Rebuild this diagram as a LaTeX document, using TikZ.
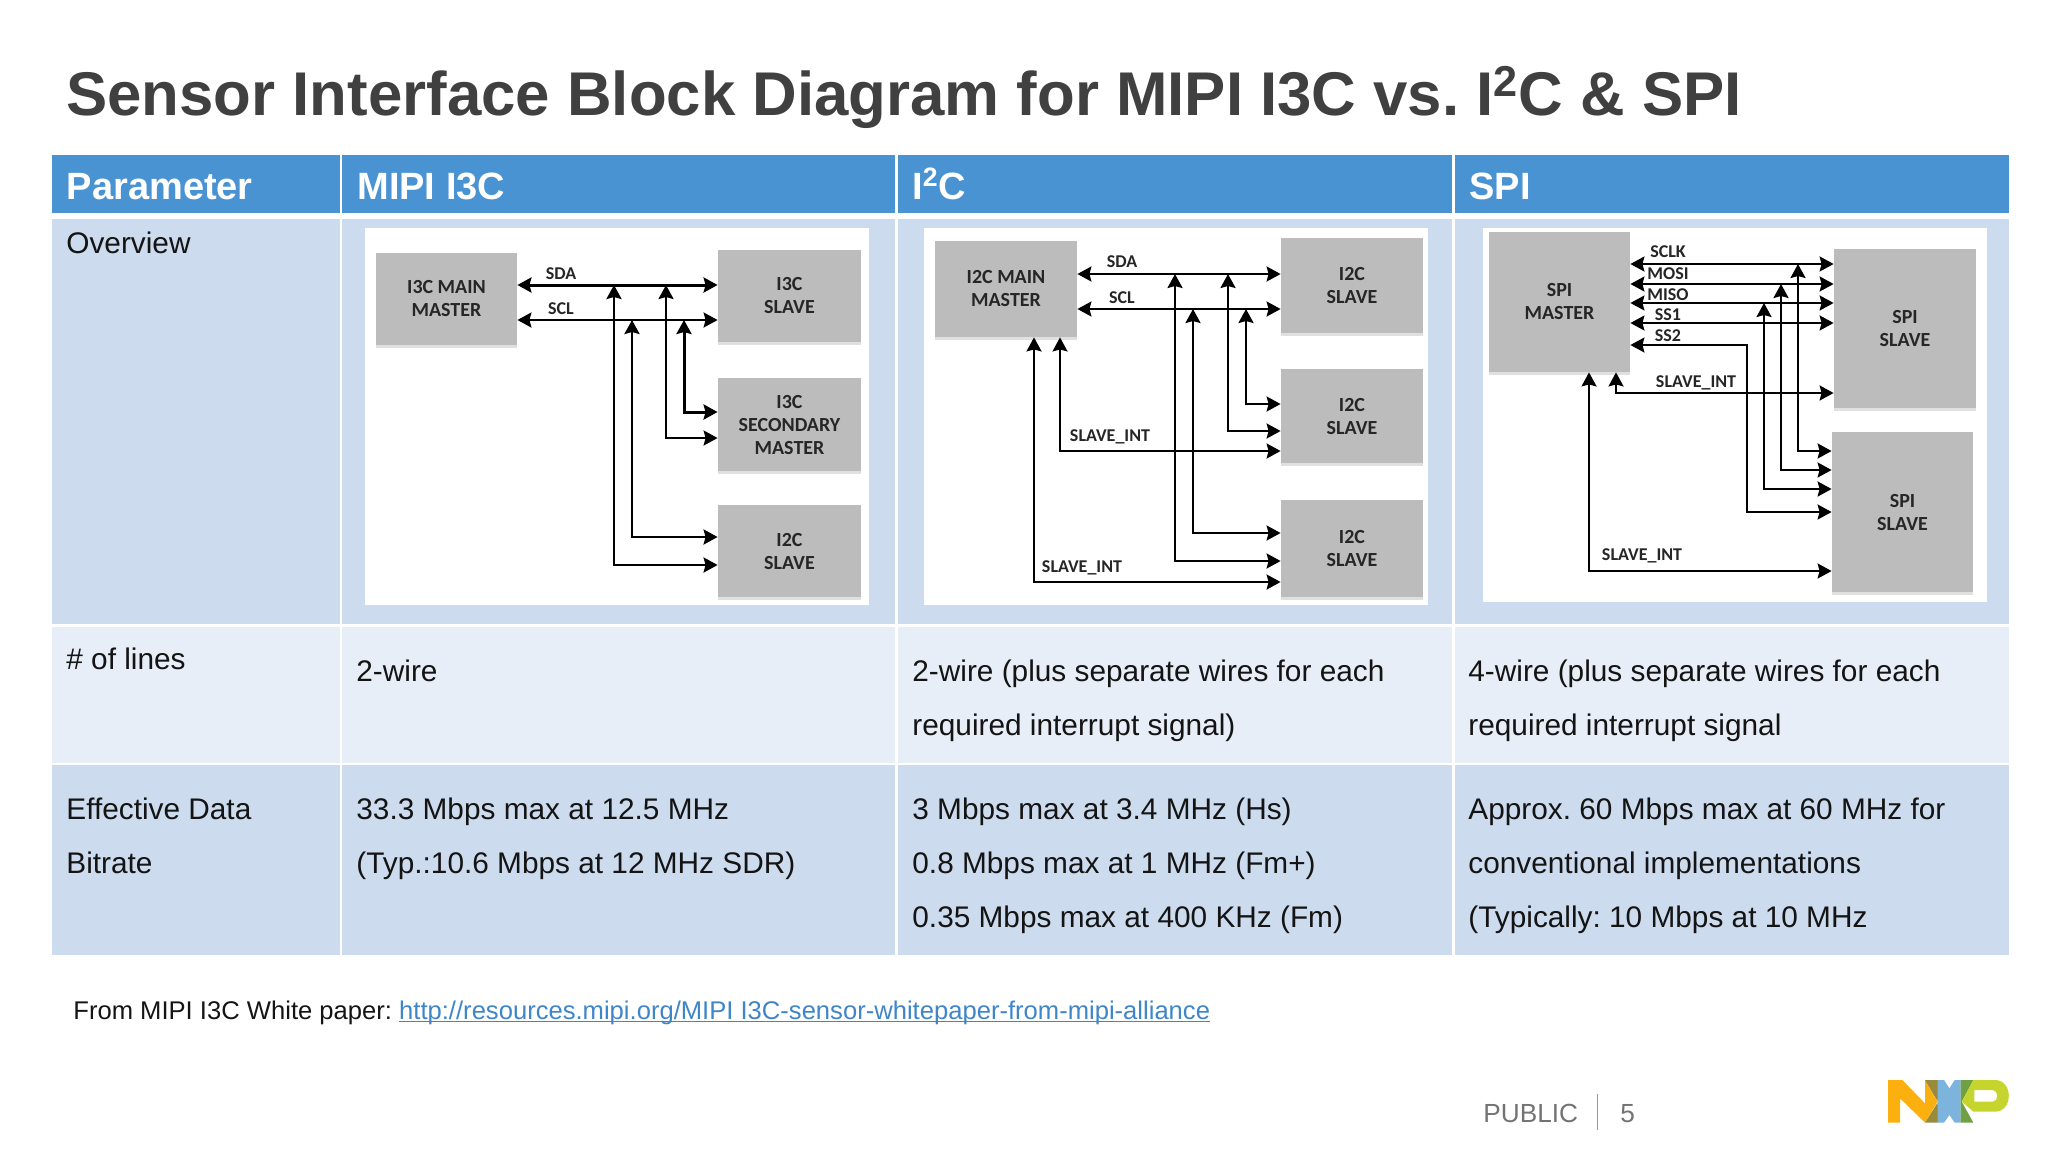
\documentclass[tikz,border=0pt]{standalone}
\usepackage{fontspec}
\setmainfont{Liberation Sans}
\newfontfamily\boxfont{Carlito}
\usepackage{tikz}
\usetikzlibrary{arrows.meta,shadows}
\definecolor{headblue}{HTML}{4A93D3}
\definecolor{rowdark}{HTML}{CCDBED}
\definecolor{rowlight}{HTML}{E8EEF7}
\definecolor{boxgray}{HTML}{BCBCBC}
\definecolor{linkblue}{HTML}{3F86C8}
\definecolor{logoorange}{HTML}{FBB00F}
\definecolor{logoolive}{HTML}{9A8A3C}
\definecolor{logoblue}{HTML}{7DB4DE}
\definecolor{logogreen}{HTML}{6FA044}
\definecolor{logolime}{HTML}{C6D52E}
\newcommand{\sq}{\textsuperscript{2}}
\frenchspacing

\begin{document}
\begin{tikzpicture}[x=0.5pt,y=-0.5pt,>={Stealth[length=7pt,width=7.5pt,inset=1pt]},
	block/.style 2 args={fill=boxgray,inner sep=0pt,align=center,minimum width=#1pt,minimum height=#2pt,text=black!85,font=\boxfont\bfseries\fontsize{10}{11.5}\selectfont,drop shadow={shadow xshift=0pt,shadow yshift=-1.5pt,opacity=0.12,fill=black}},
	sig/.style={inner sep=0pt,text=black!85,font=\boxfont\bfseries\fontsize{9}{10}\selectfont},
	wire/.style={line width=1.1pt},
	wiremid/.style={line width=1.3pt},
	wirebold/.style={line width=1.5pt},
	head/.style={anchor=base west,inner sep=0pt,text=white,font=\bfseries\fontsize{19}{22}\selectfont},
	cell/.style={anchor=base west,inner sep=0pt,text=black!92,font=\fontsize{14.9}{20}\selectfont}]
	\useasboundingbox (0,0) rectangle (2048,1152);
	\node (title) [anchor=base west,inner sep=0pt,text=black!75,font=\bfseries\fontsize{30.87}{38}\selectfont] at (66,115) {Sensor Interface Block Diagram for MIPI I3C vs. I\sq C \& SPI};
	\fill [headblue] (51.5,155) rectangle (339.5,213);
	\fill [headblue] (342,155) rectangle (895,213);
	\fill [headblue] (898,155) rectangle (1452,213);
	\fill [headblue] (1454.5,155) rectangle (2009,213);
	\fill [rowdark] (51.5,219) rectangle (339.5,624);
	\fill [rowdark] (342,219) rectangle (895,624);
	\fill [rowdark] (898,219) rectangle (1452,624);
	\fill [rowdark] (1454.5,219) rectangle (2009,624);
	\fill [rowlight] (51.5,627) rectangle (339.5,763);
	\fill [rowlight] (342,627) rectangle (895,763);
	\fill [rowlight] (898,627) rectangle (1452,763);
	\fill [rowlight] (1454.5,627) rectangle (2009,763);
	\fill [rowdark] (51.5,765) rectangle (339.5,955);
	\fill [rowdark] (342,765) rectangle (895,955);
	\fill [rowdark] (898,765) rectangle (1452,955);
	\fill [rowdark] (1454.5,765) rectangle (2009,955);
	\node (hparam) [head] at (66.5,199) {Parameter};
	\node (hmipi) [head] at (357,199) {MIPI I3C};
	\node (hiic) [head] at (912,199) {I\sq C};
	\node (hspi) [head] at (1469,199) {SPI};
	\node (overview) [cell] at (66,253) {Overview};
	\node (lines) [cell] at (66,669) {\# of lines};
	\node (linesA) [cell] at (356,681) {2-wire};
	\node (linesB) [cell] at (912,681) {2-wire (plus separate wires for each};
	\node (linesBb) [cell] at (912,735) {required interrupt signal)};
	\node (linesC) [cell] at (1468,681) {4-wire (plus separate wires for each};
	\node (linesCb) [cell] at (1468,735) {required interrupt signal};
	\node (rate) [cell] at (66,819) {Effective Data};
	\node (rateb) [cell] at (66,873) {Bitrate};
	\node (rateA) [cell] at (356,819) {33.3 Mbps max at 12.5 MHz};
	\node (rateAb) [cell] at (356,873) {(Typ.:10.6 Mbps at 12 MHz SDR)};
	\node (rateB) [cell] at (912,819) {3 Mbps max at 3.4 MHz (Hs)};
	\node (rateBb) [cell] at (912,873) {0.8 Mbps max at 1 MHz (Fm+)};
	\node (rateBc) [cell] at (912,927) {0.35 Mbps max at 400 KHz (Fm)};
	\node (rateC) [cell] at (1468,819) {Approx. 60 Mbps max at 60 MHz for};
	\node (rateCb) [cell] at (1468,873) {conventional implementations};
	\node (rateCc) [cell] at (1468,927) {(Typically: 10 Mbps at 10 MHz};
	\node (source) [anchor=base west,inner sep=0pt,text=black!92,font=\fontsize{12.8}{16}\selectfont] at (73,1019) {From MIPI I3C White paper: \textcolor{linkblue}{\underline{\smash{http://resources.mipi.org/MIPI I3C-sensor-whitepaper-from-mipi-alliance}}}};
	\node (public) [anchor=base west,inner sep=0pt,text=black!55,font=\fontsize{13.1}{16}\selectfont] at (1483,1122) {PUBLIC};
	\node (page) [anchor=base west,inner sep=0pt,text=black!55,font=\fontsize{13.1}{16}\selectfont] at (1620,1122) {5};
	\draw [black!40,line width=0.5pt] (1597,1094) -- (1597,1130);
	\fill [white] (365,228) rectangle (869,605);
	\fill [white] (924,228) rectangle (1428,605);
	\fill [white] (1483,228) rectangle (1987,602);
	\node (imain) [block={70.5}{46}] at (446.5,299) {I3C MAIN\\MASTER};
	\node (islA) [block={71.5}{46}] at (789.5,296) {I3C\\SLAVE};
	\node (islB) [block={71.5}{46.5}] at (789.5,424.5) {I3C\\SECONDARY\\MASTER};
	\node (islC) [block={71.5}{46}] at (789.5,551) {I2C\\SLAVE};
	\node (isda) [sig] at (561,274) {SDA};
	\node (iscl) [sig] at (561,309) {SCL};
	\coordinate (itapA) at (614,285);
	\coordinate (itapB) at (666,285);
	\coordinate (itapC) at (632,320);
	\coordinate (itapD) at (684,320);
	\draw [wirebold,<->] (imain.east |- itapA) -- (islA.west |- itapA);
	\draw [wire,<->] (imain.east |- itapC) -- (islA.west |- itapC);
	\draw [wiremid,<->] (itapA) |- (islC.west |- 0,565);
	\draw [wiremid,<->] (itapC) |- (islC.west |- 0,537);
	\draw [wire,<->] (itapB) |- (islB.west |- 0,438);
	\draw [wirebold,<->] (itapD) |- (islB.west |- 0,412);
	\node (cmain) [block={71}{48}] at (1006,289) {I2C MAIN\\MASTER};
	\node (cslA) [block={71}{47.5}] at (1352,285.5) {I2C\\SLAVE};
	\node (cslB) [block={71}{47}] at (1352,416) {I2C\\SLAVE};
	\node (cslC) [block={71}{48.5}] at (1352,548.5) {I2C\\SLAVE};
	\node (csda) [sig] at (1122,262) {SDA};
	\node (cscl) [sig] at (1122,298) {SCL};
	\node (cintA) [sig] at (1110,437) {SLAVE\_INT};
	\node (cintB) [sig] at (1082,568) {SLAVE\_INT};
	\coordinate (ctapA) at (1175,274);
	\coordinate (ctapB) at (1228,274);
	\coordinate (ctapC) at (1193,309);
	\coordinate (ctapD) at (1246,309);
	\draw [wire,<->] (cmain.east |- ctapA) -- (cslA.west |- ctapA);
	\draw [wire,<->] (cmain.east |- ctapC) -- (cslA.west |- ctapC);
	\draw [wire,<->] (ctapA) |- (cslC.west |- 0,561);
	\draw [wire,<->] (ctapC) |- (cslC.west |- 0,533);
	\draw [wire,<->] (ctapB) |- (cslB.west |- 0,431);
	\draw [wire,<->] (ctapD) |- (cslB.west |- 0,404);
	\draw [wire,<->] (cmain.south -| 1060,0) |- (cslB.west |- 0,451);
	\draw [wire,<->] (cmain.south -| 1034,0) |- (cslC.west |- 0,582);
	\node (smain) [block={70.5}{70}] at (1559.5,302) {SPI\\MASTER};
	\node (ssA) [block={71}{79.5}] at (1905,328.5) {SPI\\SLAVE};
	\node (ssB) [block={70.5}{80}] at (1902.5,512) {SPI\\SLAVE};
	\node (ssclk) [sig] at (1668,252) {SCLK};
	\node (smosi) [sig] at (1668,274) {MOSI};
	\node (smiso) [sig] at (1668,295) {MISO};
	\node (ssa) [sig] at (1668,315) {SS1};
	\node (ssb) [sig] at (1668,336) {SS2};
	\node (sintA) [sig] at (1696,383) {SLAVE\_INT};
	\node (sintB) [sig] at (1642,556) {SLAVE\_INT};
	\coordinate (stapA) at (1798,264);
	\coordinate (stapB) at (1781,284);
	\coordinate (stapC) at (1764,303);
	\coordinate (sbend) at (1747,512);
	\draw [wire,<->] (smain.east |- stapA) -- (ssA.west |- stapA);
	\draw [wire,<->] (smain.east |- stapB) -- (ssA.west |- stapB);
	\draw [wire,<->] (smain.east |- stapC) -- (ssA.west |- stapC);
	\draw [wire,<->] (smain.east |- 0,323) -- (ssA.west |- 0,323);
	\draw [wire,<->] (smain.east |- 0,345) -| (sbend) -- (ssB.west |- sbend);
	\draw [wire,<->] (stapA) |- (ssB.west |- 0,451);
	\draw [wire,<->] (stapB) |- (ssB.west |- 0,470);
	\draw [wire,<->] (stapC) |- (ssB.west |- 0,489);
	\draw [wire,<->] (smain.south -| 1616,0) |- (ssA.west |- 0,393);
	\draw [wire,<->] (smain.south -| 1589,0) |- (ssB.west |- 0,571);
	\begin{scope}[shift={(1870,1070)},x=0.1667pt,y=-0.1667pt]
		\fill [logoorange] (54,30) -- (97,30) -- (165,100) -- (165,30) -- (202,95) -- (165,158) -- (90,85) -- (90,158) -- (54,158) -- cycle;
		\fill [logoolive] (165,30) -- (204,30) -- (203,95) -- cycle (203,97) -- (204,158) -- (165,158) -- cycle;
		\fill [logoblue] (203,30) -- (222,30) -- (238,55) -- (254,30) -- (272,30) -- (272,158) -- (254,158) -- (238,135) -- (222,158) -- (203,158) -- cycle;
		\fill [logogreen] (272,30) -- (310,30) -- (275,95) -- (310,158) -- (272,158) -- cycle;
		\fill [logolime,even odd rule] (310,30) -- (375,30) .. controls (430,30) and (430,125) .. (375,125) -- (310,125) -- (275,95) -- cycle (313,60) -- (368,60) .. controls (386,60) and (386,95) .. (368,95) -- (313,95) -- cycle;
	\end{scope}
\end{tikzpicture}
\end{document}
